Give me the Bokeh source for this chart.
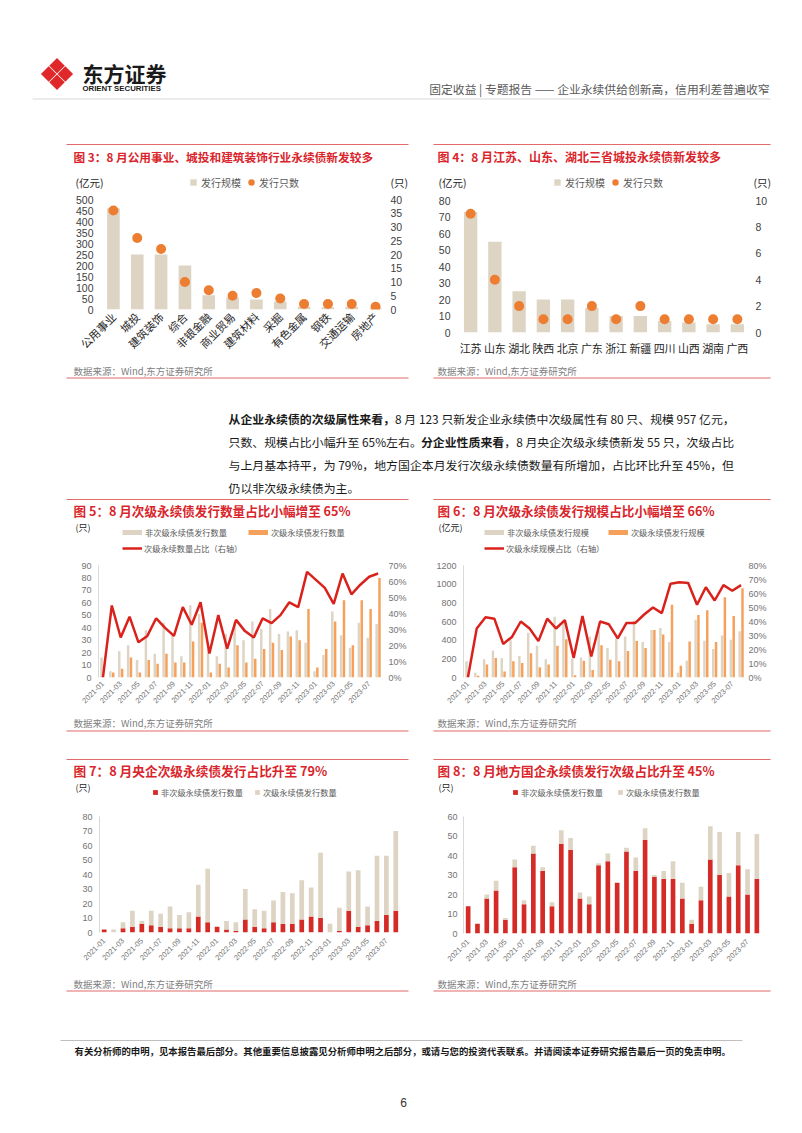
import math
from bokeh.plotting import figure
from bokeh.models import (Range1d, FactorRange, LinearAxis, FixedTicker, PrintfTickFormatter,
                          ColumnDataSource, Legend, LegendItem, Spacer)
from bokeh.layouts import row, column
from bokeh.core.properties import value
from bokeh.transform import dodge
from bokeh.embed import file_html
from bokeh.resources import INLINE

CJK = "Noto Sans CJK SC"
NUM = "Liberation Sans"

# ---------------- data ----------------
ind_cats = ["公用事业", "城投", "建筑装饰", "综合", "非银金融", "商业贸易", "建筑材料",
            "采掘", "有色金属", "钢铁", "交通运输", "房地产"]
ind_amount = [460, 250, 250, 200, 65, 55, 45, 36, 12, 10, 12, 5]
ind_count = [36, 26, 22, 10, 7, 5, 6, 4, 2, 2, 2, 1]

prov_cats = ["江苏", "山东", "湖北", "陕西", "北京", "广东", "浙江", "新疆", "四川", "山西", "湖南", "广西"]
prov_amount = [73, 55, 25, 20, 20, 15, 10, 10, 7, 6, 5, 5]
prov_count = [9, 4, 2, 1, 1, 2, 1, 2, 1, 1, 1, 1]

months = ["2021-01", "2021-02", "2021-03", "2021-04", "2021-05", "2021-06", "2021-07", "2021-08",
          "2021-09", "2021-10", "2021-11", "2021-12", "2022-01", "2022-02", "2022-03", "2022-04",
          "2022-05", "2022-06", "2022-07", "2022-08", "2022-09", "2022-10", "2022-11", "2022-12",
          "2023-01", "2023-02", "2023-03", "2023-04", "2023-05", "2023-06", "2023-07", "2023-08"]

all_nonsub_cnt = [16, 5, 21, 26, 14, 38, 19, 44, 34, 17, 58, 51, 23, 17, 35, 45,
                  30, 45, 39, 55, 35, 37, 38, 28, 5, 18, 53, 34, 24, 44, 32, 43]
all_sub_cnt = [0, 4, 7, 16, 4, 14, 11, 19, 12, 12, 29, 44, 4, 11, 8, 26,
               12, 15, 23, 28, 22, 33, 30, 55, 8, 23, 45, 62, 26, 62, 55, 80]
all_sub_cnt_pct = [0, 45, 25, 38, 22, 26, 37, 31, 26, 44, 33, 47, 15, 39, 18, 36,
                   29, 25, 37, 34, 39, 47, 44, 66, 61, 56, 46, 65, 52, 58, 63, 65]

all_nonsub_amt = [175, 50, 195, 290, 205, 400, 230, 480, 340, 195, 650, 590, 200, 215, 440, 500,
                  315, 420, 440, 610, 380, 510, 530, 380, 50, 180, 620, 395, 305, 450, 405, 495]
all_sub_amt = [0, 20, 140, 210, 65, 175, 155, 260, 110, 140, 340, 410, 25, 180, 80, 345,
               190, 175, 285, 390, 315, 510, 460, 780, 125, 385, 670, 720, 380, 860, 660, 957]
all_sub_amt_pct = [0, 35, 43, 42, 24, 29, 40, 35, 26, 42, 35, 41, 14, 44, 15, 40,
                   38, 28, 39, 39, 45, 50, 46, 67, 68, 67.5, 52, 64.5, 55, 66, 62, 66]

central_nonsub = [2, 0, 3, 4, 6, 5, 4, 3, 3, 3, 11, 7, 4, 2, 1, 9,
                  4, 3, 7, 6, 6, 9, 11, 10, 0, 1, 15, 4, 5, 8, 12, 15]
central_sub = [0, 2, 4, 11, 2, 10, 9, 15, 9, 11, 22, 37, 0, 6, 6, 21,
               12, 12, 15, 22, 21, 27, 20, 45, 6, 16, 27, 39, 13, 45, 41, 55]

local_nonsub = [14, 5, 18, 22, 7, 34, 15, 41, 32, 14, 46, 43, 18, 15, 35, 37,
                26, 42, 32, 48, 29, 28, 28, 18, 5, 17, 38, 30, 19, 35, 20, 28]
local_sub = [0, 0, 2, 5, 1, 4, 2, 4, 2, 2, 7, 6, 3, 4, 1, 4,
             0, 2, 7, 6, 1, 4, 9, 8, 2, 7, 17, 22, 12, 17, 13, 23]

# ---------------- styles ----------------
BEIGE = "#ddd4c4"
ORANGE_DOT = "#ed7d31"
ORANGE_BAR = "#f5a15b"
RED_LINE = "#d9221c"
RED_BAR = "#d42b27"
TITLE_RED = "#d9252b"
PANEL_LINE = "#e26a6a"
TXT = "#1a1a1a"
TICK_DARK = "#404040"
TICK_GRAY = "#737373"
SRC_GRAY = "#808080"
LEG_GRAY = "#595959"


def no_align(p):
    try:
        p.frame_align = False
    except Exception:
        pass


def deco(x0, y0, w, h):
    p = figure(width=w, height=h, x_range=Range1d(x0, x0 + w), y_range=Range1d(y0 + h, y0),
               output_backend="svg", toolbar_location=None, title=None,
               x_axis_location=None, y_axis_location=None,
               min_border_left=0, min_border_right=0, min_border_top=0, min_border_bottom=0)
    p.xgrid.visible = False
    p.ygrid.visible = False
    p.outline_line_color = None
    p.background_fill_color = "white"
    p.border_fill_color = "white"
    no_align(p)
    return p


def put(p, x, y, s, size, color=TXT, bold=False, align="left", font=CJK):
    p.text(x=[x], y=[y], text=[s], text_font=value(font), text_font_size=value(size),
           text_font_style=value("bold" if bold else "normal"), text_color=color,
           text_align=value(align), text_baseline=value("middle"))


def hline(p, xa, xb, y, color, width=1.0):
    p.segment(x0=[xa], y0=[y], x1=[xb], y1=[y], line_color=color, line_width=width)


def add_legend(p, x0, y0, h, lx, ly_top, items, fs, gw, gh, standoff, spacing):
    # location tuple = bottom-left of legend box, measured from the frame's bottom-left
    leg = Legend(items=items, location=(lx - x0, y0 + h - (ly_top + gh)), orientation="horizontal",
                 padding=0, margin=0, spacing=spacing, glyph_width=gw, glyph_height=gh,
                 label_standoff=standoff, label_height=gh, label_width=0,
                 label_text_font=CJK, label_text_font_size=fs, label_text_color=LEG_GRAY,
                 border_line_color=None, background_fill_alpha=0)
    p.add_layout(leg)


OFF = -10000  # swatch-only renderers sit far outside the visible range


def chart(w, h, ml, mr, mt, mb, xr, yr):
    p = figure(width=w, height=h, x_range=xr, y_range=yr, output_backend="svg",
               toolbar_location=None, title=None,
               min_border_left=ml, min_border_right=mr, min_border_top=mt, min_border_bottom=mb)
    p.xgrid.visible = False
    p.ygrid.visible = False
    p.outline_line_color = None
    p.background_fill_color = "white"
    p.border_fill_color = "white"
    no_align(p)
    return p


def style(ax, fs, color, font=NUM, line=None, standoff=5):
    ax.axis_line_color = line
    ax.major_tick_line_color = None
    ax.minor_tick_line_color = None
    ax.major_tick_out = 0
    ax.major_tick_in = 0
    ax.minor_tick_out = 0
    ax.minor_tick_in = 0
    ax.major_label_text_font_size = fs
    ax.major_label_text_color = color
    ax.major_label_text_font = font
    ax.major_label_standoff = standoff


x_idx = list(range(len(months)))


def month_axis(p, fs, standoff):
    ax = p.below[0]
    ax.ticker = FixedTicker(ticks=x_idx[::2])
    ax.major_label_overrides = {i: months[i] for i in x_idx}
    ax.major_label_orientation = math.pi / 4
    style(ax, fs, TICK_GRAY, NUM, None, standoff)


SRC_TEXT = "数据来源：Wind,东方证券研究所"

# ---------------- header ----------------
hdr = deco(0, 0, 800, 140)
hdr.scatter(x=[56.5, 64.8, 56.5, 48.2], y=[65.2, 73.5, 81.8, 73.5], marker="square",
            size=11, angle=math.pi / 4, fill_color="#e0282b", line_color=None)
put(hdr, 82, 72, "东方证券", "21px", "#1a1a1a", True)
put(hdr, 82, 87.5, "ORIENT SECURITIES", "7.8px", "#1a1a1a", True, font=NUM)
put(hdr, 769, 88, "固定收益 | 专题报告 —— 企业永续供给创新高，信用利差普遍收窄", "11.8px", "#595959", False, "right")
hline(hdr, 32, 770, 98.5, "#d9d9d9", 1)

# ---------------- band B: fig 3 & 4 ----------------
t3 = deco(64, 140, 350, 52)
hline(t3, 66, 408, 144, PANEL_LINE, 1.2)
put(t3, 73, 155.5, "图 3：8 月公用事业、城投和建筑装饰行业永续债新发较多", "11.7px", TITLE_RED, True)
put(t3, 75, 182, "(亿元)", "10.5px", "#262626")
put(t3, 390, 182, "(只)", "10.5px", "#262626")
d3a = t3.scatter(x=[OFF], y=[OFF], marker="square", size=7, fill_color=BEIGE, line_color=None)
d3b = t3.scatter(x=[OFF], y=[OFF], marker="circle", size=8, fill_color=ORANGE_DOT, line_color=None)
add_legend(t3, 64, 140, 52, 185, 174,
           [LegendItem(label="发行规模", renderers=[d3a]), LegendItem(label="发行只数", renderers=[d3b])],
           "10px", 16, 16, 0, 2)

src3 = ColumnDataSource(dict(cat=ind_cats, amt=ind_amount, cnt=ind_count))
p3 = chart(350, 168, 37, 27, 7, 51, FactorRange(factors=ind_cats), Range1d(0, 500))
p3.extra_y_ranges = {"cnt": Range1d(0, 40)}
p3.vbar(x="cat", top="amt", width=0.53, source=src3, fill_color=BEIGE, line_color=None)
p3.scatter(x="cat", y="cnt", y_range_name="cnt", size=10, source=src3,
           fill_color=ORANGE_DOT, line_color=None)
p3.left[0].ticker = FixedTicker(ticks=list(range(0, 501, 50)))
style(p3.left[0], "10.5px", TICK_DARK, NUM, None, 8)
r3 = LinearAxis(y_range_name="cnt", ticker=FixedTicker(ticks=list(range(0, 41, 5))))
style(r3, "10.5px", TICK_DARK, NUM, None, 3)
p3.add_layout(r3, "right")
style(p3.below[0], "11px", "#262626", CJK, None, 5)
p3.below[0].major_label_orientation = math.pi / 4

b3 = deco(64, 360, 350, 22)
put(b3, 73, 370, SRC_TEXT, "9.5px", SRC_GRAY)
hline(b3, 66, 408, 377.5, PANEL_LINE, 1.2)

t4 = deco(424, 140, 350, 52)
hline(t4, 433, 770, 144, PANEL_LINE, 1.2)
put(t4, 437, 155.5, "图 4：8 月江苏、山东、湖北三省城投永续债新发较多", "12px", TITLE_RED, True)
put(t4, 438, 182, "(亿元)", "10.5px", "#262626")
put(t4, 753, 182, "(只)", "10.5px", "#262626")
d4a = t4.scatter(x=[OFF], y=[OFF], marker="square", size=7, fill_color=BEIGE, line_color=None)
d4b = t4.scatter(x=[OFF], y=[OFF], marker="circle", size=8, fill_color=ORANGE_DOT, line_color=None)
add_legend(t4, 424, 140, 52, 549, 174,
           [LegendItem(label="发行规模", renderers=[d4a]), LegendItem(label="发行只数", renderers=[d4b])],
           "10px", 16, 16, 0, 2)

src4 = ColumnDataSource(dict(cat=prov_cats, amt=prov_amount, cnt=prov_count))
p4 = chart(350, 168, 34, 25, 8, 28, FactorRange(factors=prov_cats), Range1d(0, 80))
p4.extra_y_ranges = {"cnt": Range1d(0, 10)}
p4.vbar(x="cat", top="amt", width=0.55, source=src4, fill_color=BEIGE, line_color=None)
p4.scatter(x="cat", y="cnt", y_range_name="cnt", size=10, source=src4,
           fill_color=ORANGE_DOT, line_color=None)
p4.left[0].ticker = FixedTicker(ticks=list(range(0, 81, 10)))
style(p4.left[0], "10.5px", TICK_DARK, NUM, None, 8)
r4 = LinearAxis(y_range_name="cnt", ticker=FixedTicker(ticks=list(range(0, 11, 2))))
style(r4, "10.5px", TICK_DARK, NUM, None, 6)
p4.add_layout(r4, "right")
style(p4.below[0], "11px", "#262626", CJK, None, 7)

b4 = deco(424, 360, 350, 22)
put(b4, 437, 370, SRC_TEXT, "9.5px", SRC_GRAY)
hline(b4, 433, 770, 377.5, PANEL_LINE, 1.2)

# ---------------- band C: paragraph ----------------
para = deco(0, 382, 800, 113)
PFS = 11.9


def est_w(s, fs):
    w = 0.0
    for ch in s:
        o = ord(ch)
        if o >= 0x2E80 or ch in "，。、：（）；":
            w += 1.0
        elif ch.isdigit():
            w += 0.554
        elif ch == " ":
            w += 0.224
        elif ch == "%":
            w += 0.84
        else:
            w += 0.55
    return w * fs


para_lines = [
    [("从企业永续债的次级属性来看，", True), ("8 月 123 只新发企业永续债中次级属性有 80 只、规模 957 亿元，", False)],
    [("只数、规模占比小幅升至 65%左右。", False), ("分企业性质来看", True),
     ("，8 月央企次级永续债新发 55 只，次级占比", False)],
    [("与上月基本持平，为 79%，地方国企本月发行次级永续债数量有所增加，占比环比升至 45%，但", False)],
    [("仍以非次级永续债为主。", False)],
]
for li, segs in enumerate(para_lines):
    xx = 228.0
    yy = 418 + li * 23.0
    for s, b in segs:
        put(para, xx, yy, s, f"{PFS}px", TXT, b)
        xx += est_w(s, PFS)

# ---------------- band D: fig 5 & 6 ----------------
t5 = deco(64, 495, 350, 65)
hline(t5, 66, 408, 499, PANEL_LINE, 1.2)
put(t5, 73, 509.5, "图 5：8 月次级永续债发行数量占比小幅增至 65%", "12.6px", TITLE_RED, True)
put(t5, 75, 527, "(只)", "9px", "#262626")
d5a = t5.line(x=[OFF, OFF + 1], y=[OFF, OFF], line_color=BEIGE, line_width=5)
d5b = t5.line(x=[OFF, OFF + 1], y=[OFF, OFF], line_color=ORANGE_BAR, line_width=5)
d5c = t5.line(x=[OFF, OFF + 1], y=[OFF, OFF], line_color=RED_LINE, line_width=2.5)
add_legend(t5, 64, 495, 65, 122, 526,
           [LegendItem(label="非次级永续债发行数量", renderers=[d5a]),
            LegendItem(label="次级永续债发行数量", renderers=[d5b])], "8.2px", 20, 12, 3, 21)
add_legend(t5, 64, 495, 65, 122, 542,
           [LegendItem(label="次级永续数量占比（右轴）", renderers=[d5c])], "8.2px", 20, 12, 2, 10)

src5 = ColumnDataSource(dict(x=x_idx, non=all_nonsub_cnt, sub=all_sub_cnt, pct=all_sub_cnt_pct))
p5 = chart(350, 152, 34, 32, 5, 35, Range1d(-0.5, len(months) - 0.5), Range1d(0, 90))
p5.extra_y_ranges = {"pct": Range1d(0, 70)}
p5.vbar(x=dodge("x", -0.16), top="non", width=0.28, source=src5, fill_color=BEIGE, line_color=None)
p5.vbar(x=dodge("x", 0.16), top="sub", width=0.28, source=src5, fill_color=ORANGE_BAR, line_color=None)
p5.line(x="x", y="pct", y_range_name="pct", source=src5, line_color=RED_LINE, line_width=2.5)
p5.left[0].ticker = FixedTicker(ticks=list(range(0, 91, 10)))
style(p5.left[0], "9px", TICK_GRAY, NUM, "#d9d9d9", 7)
r5 = LinearAxis(y_range_name="pct", ticker=FixedTicker(ticks=list(range(0, 71, 10))),
                formatter=PrintfTickFormatter(format="%d%%"))
style(r5, "9px", TICK_GRAY, NUM, None, 6)
p5.add_layout(r5, "right")
month_axis(p5, "7.5px", 5)

b5 = deco(64, 712, 350, 25)
put(b5, 73, 722, SRC_TEXT, "9.5px", SRC_GRAY)
hline(b5, 66, 408, 730.5, PANEL_LINE, 1.2)

t6 = deco(424, 495, 350, 65)
hline(t6, 433, 770, 499, PANEL_LINE, 1.2)
put(t6, 437, 509.5, "图 6：8 月次级永续债发行规模占比小幅增至 66%", "12.6px", TITLE_RED, True)
put(t6, 438, 527, "(亿元)", "9px", "#262626")
d6a = t6.line(x=[OFF, OFF + 1], y=[OFF, OFF], line_color=BEIGE, line_width=5)
d6b = t6.line(x=[OFF, OFF + 1], y=[OFF, OFF], line_color=ORANGE_BAR, line_width=5)
d6c = t6.line(x=[OFF, OFF + 1], y=[OFF, OFF], line_color=RED_LINE, line_width=2.5)
add_legend(t6, 424, 495, 65, 484, 526,
           [LegendItem(label="非次级永续债发行规模", renderers=[d6a]),
            LegendItem(label="次级永续债发行规模", renderers=[d6b])], "8.2px", 20, 12, 3, 19)
add_legend(t6, 424, 495, 65, 484, 542,
           [LegendItem(label="次级永续规模占比（右轴）", renderers=[d6c])], "8.2px", 20, 12, 2, 10)

src6 = ColumnDataSource(dict(x=x_idx, non=all_nonsub_amt, sub=all_sub_amt, pct=all_sub_amt_pct))
p6 = chart(350, 152, 39, 29, 5, 35, Range1d(-0.5, len(months) - 0.5), Range1d(0, 1200))
p6.extra_y_ranges = {"pct": Range1d(0, 80)}
p6.vbar(x=dodge("x", -0.16), top="non", width=0.28, source=src6, fill_color=BEIGE, line_color=None)
p6.vbar(x=dodge("x", 0.16), top="sub", width=0.28, source=src6, fill_color=ORANGE_BAR, line_color=None)
p6.line(x="x", y="pct", y_range_name="pct", source=src6, line_color=RED_LINE, line_width=2.5)
p6.left[0].ticker = FixedTicker(ticks=list(range(0, 1201, 200)))
style(p6.left[0], "9px", TICK_GRAY, NUM, "#d9d9d9", 7)
r6 = LinearAxis(y_range_name="pct", ticker=FixedTicker(ticks=list(range(0, 81, 10))),
                formatter=PrintfTickFormatter(format="%d%%"))
style(r6, "9px", TICK_GRAY, NUM, None, 3)
p6.add_layout(r6, "right")
month_axis(p6, "7.5px", 5)

b6 = deco(424, 712, 350, 25)
put(b6, 437, 722, SRC_TEXT, "9.5px", SRC_GRAY)
hline(b6, 433, 770, 730.5, PANEL_LINE, 1.2)

# ---------------- band F: fig 7 & 8 ----------------
t7 = deco(64, 737, 350, 73)
hline(t7, 66, 408, 759, PANEL_LINE, 1.2)
put(t7, 73, 769.5, "图 7：8 月央企次级永续债发行占比升至 79%", "12.7px", TITLE_RED, True)
put(t7, 75, 787, "(只)", "9px", "#262626")
d7a = t7.scatter(x=[OFF], y=[OFF], marker="square", size=5, fill_color=RED_BAR, line_color=None)
d7b = t7.scatter(x=[OFF], y=[OFF], marker="square", size=5, fill_color=BEIGE, line_color=None)
add_legend(t7, 64, 737, 73, 149, 786,
           [LegendItem(label="非次级永续债发行数量", renderers=[d7a]),
            LegendItem(label="次级永续债发行数量", renderers=[d7b])], "8.2px", 12, 12, 0, 8)

src7 = ColumnDataSource(dict(x=x_idx, non=central_nonsub, sub=central_sub))
p7 = chart(350, 158, 35, 14, 6, 36, Range1d(-0.5, len(months) - 0.5), Range1d(0, 80))
p7.vbar_stack(["non", "sub"], x="x", width=0.5, source=src7,
              fill_color=[RED_BAR, BEIGE], line_color=None)
p7.left[0].ticker = FixedTicker(ticks=list(range(0, 81, 10)))
style(p7.left[0], "9px", TICK_GRAY, NUM, "#d9d9d9", 7)
month_axis(p7, "7.5px", 7)

b7 = deco(64, 968, 350, 27)
put(b7, 73, 983, SRC_TEXT, "9.5px", SRC_GRAY)
hline(b7, 66, 408, 990.5, PANEL_LINE, 1.2)

t8 = deco(424, 737, 350, 73)
hline(t8, 433, 770, 759, PANEL_LINE, 1.2)
put(t8, 437, 769.5, "图 8：8 月地方国企永续债发行次级占比升至 45%", "12.6px", TITLE_RED, True)
put(t8, 438, 787, "(只)", "9px", "#262626")
d8a = t8.scatter(x=[OFF], y=[OFF], marker="square", size=5, fill_color=RED_BAR, line_color=None)
d8b = t8.scatter(x=[OFF], y=[OFF], marker="square", size=5, fill_color=BEIGE, line_color=None)
add_legend(t8, 424, 737, 73, 509, 786,
           [LegendItem(label="非次级永续债发行数量", renderers=[d8a]),
            LegendItem(label="次级永续债发行数量", renderers=[d8b])], "8.2px", 12, 12, 0, 11)

src8 = ColumnDataSource(dict(x=x_idx, non=local_nonsub, sub=local_sub))
p8 = chart(350, 158, 39, 13, 6, 35, Range1d(-0.5, len(months) - 0.5), Range1d(0, 60))
p8.vbar_stack(["non", "sub"], x="x", width=0.5, source=src8,
              fill_color=[RED_BAR, BEIGE], line_color=None)
p8.left[0].ticker = FixedTicker(ticks=list(range(0, 61, 10)))
style(p8.left[0], "9px", TICK_GRAY, NUM, "#d9d9d9", 6)
month_axis(p8, "7.5px", 7)

b8 = deco(424, 968, 350, 27)
put(b8, 437, 983, SRC_TEXT, "9.5px", SRC_GRAY)
hline(b8, 433, 770, 990.5, PANEL_LINE, 1.2)

# ---------------- footer ----------------
ftr = deco(0, 995, 800, 135)
hline(ftr, 60, 742, 1040, "#bfbfbf", 1.2)
put(ftr, 74, 1050, "有关分析师的申明，见本报告最后部分。其他重要信息披露见分析师申明之后部分，或请与您的投资代表联系。并请阅读本证券研究报告最后一页的免责申明。",
    "9.4px", "#1a1a1a", True)
put(ftr, 403, 1102, "6", "12px", "#333333", False, "center", NUM)


def band(h, left_col, right_col):
    return row(Spacer(width=64, height=h), left_col, Spacer(width=10, height=h), right_col,
               Spacer(width=26, height=h))


page = column(
    hdr,
    band(242, column(t3, p3, b3), column(t4, p4, b4)),
    para,
    band(242, column(t5, p5, b5), column(t6, p6, b6)),
    band(258, column(t7, p7, b7), column(t8, p8, b8)),
    ftr,
)

open("out.html", "w").write(file_html(page, INLINE))
